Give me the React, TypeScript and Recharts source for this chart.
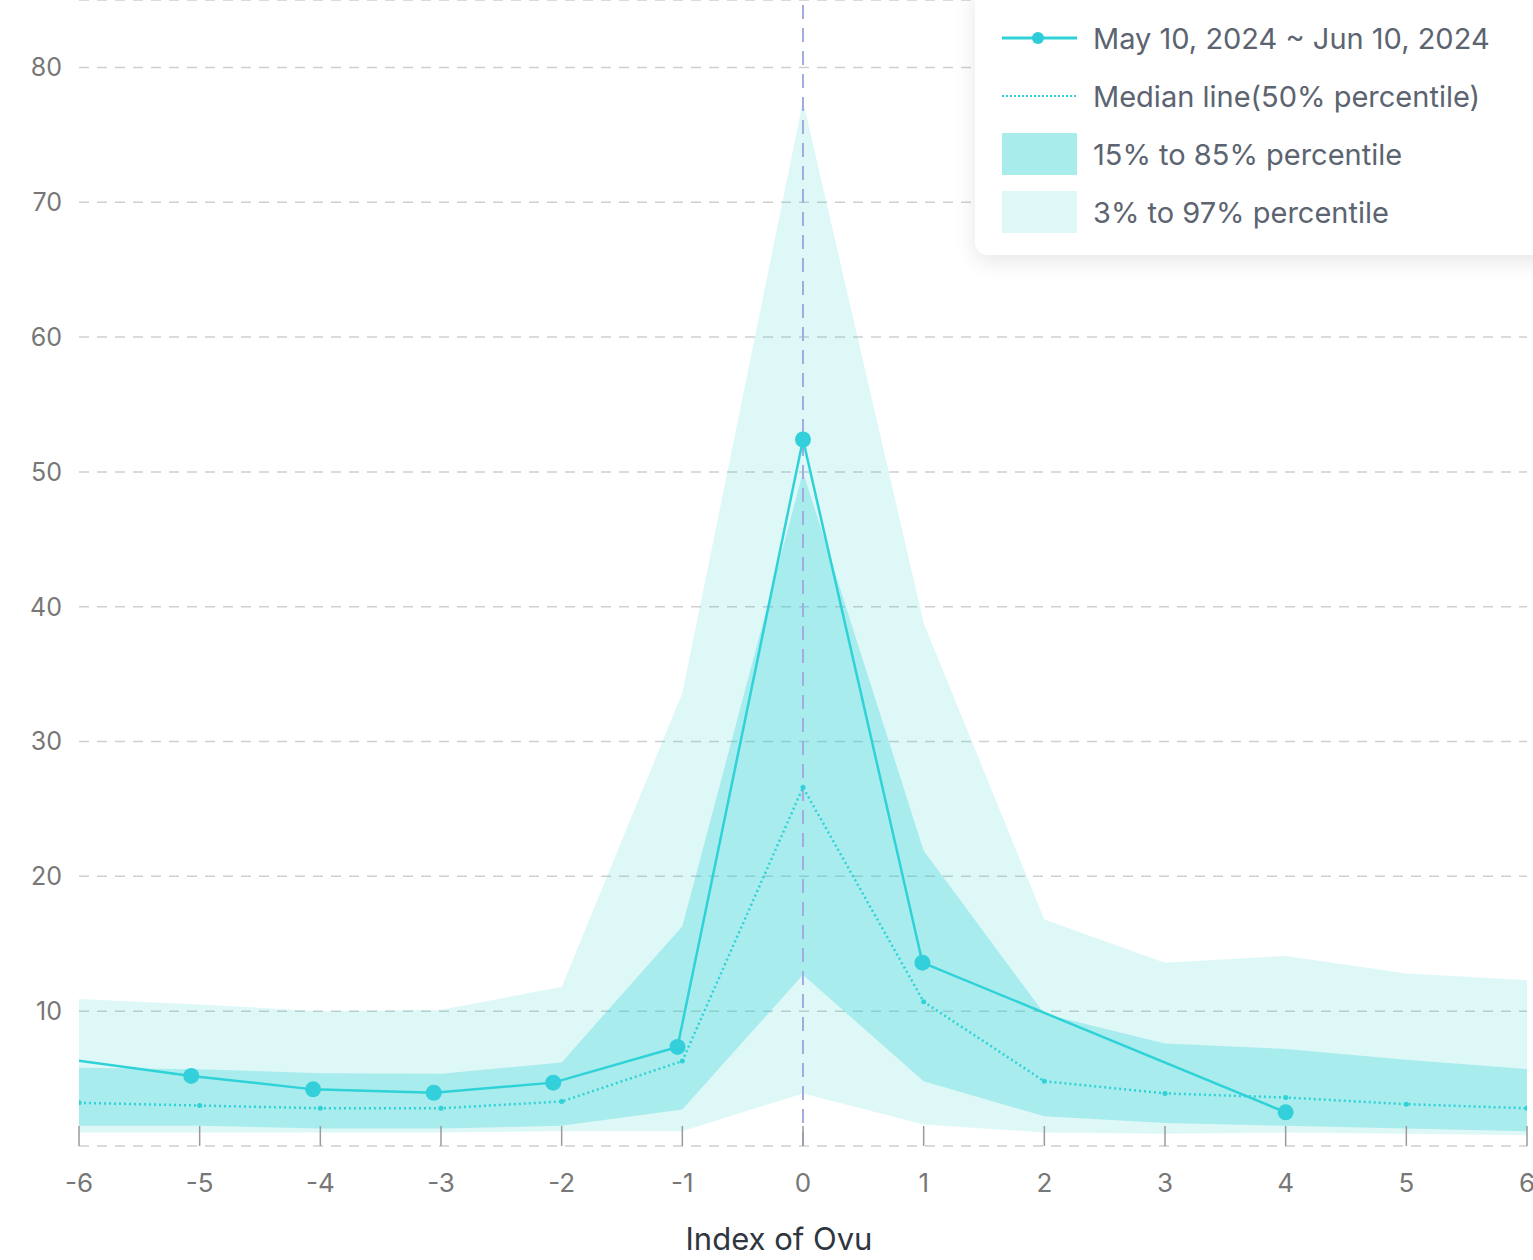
import {
  Area,
  CartesianGrid,
  ComposedChart,
  Legend,
  Line,
  ReferenceLine,
  XAxis,
  YAxis,
} from "recharts";

// Ovulation-index chart: percentile bands around day 0, the median line and
// one cycle's readings (May 10 ~ Jun 10, 2024) on top.

const DAYS = [-6, -5, -4, -3, -2, -1, 0, 1, 2, 3, 4, 5, 6];
const P97 = [10.9, 10.5, 10.0, 10.1, 11.8, 33.6, 77.5, 38.8, 16.8, 13.6, 14.1, 12.8, 12.3];
const P85 = [5.8, 5.7, 5.4, 5.35, 6.2, 16.3, 50, 21.9, 9.8, 7.6, 7.2, 6.4, 5.7];
const P50 = [3.2, 3.0, 2.8, 2.8, 3.3, 6.3, 26.6, 10.7, 4.8, 3.9, 3.6, 3.1, 2.8];
const P15 = [1.5, 1.5, 1.3, 1.3, 1.5, 2.7, 12.7, 4.8, 2.2, 1.7, 1.5, 1.3, 1.1];
const P3 = [1.0, 1.0, 1.0, 1.0, 1.1, 1.1, 3.9, 1.6, 1.0, 0.9, 1.0, 0.9, 0.8];

// readings of the selected cycle (x is the day offset, not always whole)
const CYCLE_X = [-6.07, -5.07, -4.06, -3.06, -2.07, -1.04, 0, 0.99, 4.0];
const CYCLE_Y = [6.4, 5.2, 4.2, 3.95, 4.7, 7.35, 52.4, 13.6, 2.5];

const Y_TICKS = [0, 10, 20, 30, 40, 50, 60, 70, 80, 85];

const bands = DAYS.map((x, i) => ({
  x,
  outer: [P3[i], P97[i]],
  inner: [P15[i], P85[i]],
  median: P50[i],
}));
const cycle = CYCLE_X.map((x, i) => ({ x, value: CYCLE_Y[i] }));

const FONT = "Inter, 'Noto Sans', sans-serif";
const TEAL = "#2fd2d7";

function LegendBox() {
  const rows = [
    {
      label: "May 10, 2024 ~ Jun 10, 2024",
      icon: (
        <>
          <line x1={0} y1={22} x2={75} y2={22} stroke={TEAL} strokeWidth={3} />
          <circle cx={36} cy={22} r={6} fill="#2cccd8" />
        </>
      ),
    },
    {
      label: "Median line(50% percentile)",
      icon: <line x1={0} y1={22} x2={75} y2={22} stroke={TEAL} strokeWidth={2} strokeDasharray="2 2" />,
    },
    { label: "15% to 85% percentile", icon: <rect x={0} y={1} width={75} height={42} fill="#a9ecec" /> },
    { label: "3% to 97% percentile", icon: <rect x={0} y={1} width={75} height={42} fill="#def8f8" /> },
  ];
  return (
    <div
      style={{
        width: 600,
        height: 267,
        boxSizing: "border-box",
        paddingTop: 21,
        background: "#fff",
        borderRadius: 12,
        boxShadow: "0 6px 22px rgba(0, 0, 0, 0.10)",
        fontFamily: FONT,
      }}
    >
      {rows.map((r) => (
        <div key={r.label} style={{ display: "flex", alignItems: "center", height: 58, paddingLeft: 27 }}>
          <svg width={75} height={44}>
            {r.icon}
          </svg>
          <span style={{ marginLeft: 16, fontSize: 29, color: "#5b6470", whiteSpace: "nowrap" }}>{r.label}</span>
        </div>
      ))}
    </div>
  );
}

export default function App() {
  return (
    <div
      style={{
        position: "absolute",
        left: 0,
        top: 0,
        width: 1533,
        height: 1260,
        overflow: "hidden",
        background: "#fff",
        fontFamily: FONT,
      }}
    >
      <ComposedChart
        width={1533}
        height={1260}
        data={bands}
        margin={{ top: 0, right: 6, bottom: 0, left: 0 }}
      >
        <Area
          dataKey="outer"
          type="linear"
          fill="#2ad0d4"
          fillOpacity={0.155}
          stroke="none"
          isAnimationActive={false}
        />
        <Area
          dataKey="inner"
          type="linear"
          fill="#2ad0d4"
          fillOpacity={0.29}
          stroke="none"
          isAnimationActive={false}
        />
        <CartesianGrid vertical={false} stroke="#cfcfcf" strokeWidth={1.5} strokeDasharray="10 8" />
        <XAxis
          dataKey="x"
          type="number"
          domain={[-6, 6]}
          allowDataOverflow
          ticks={DAYS}
          interval={0}
          height={114}
          axisLine={false}
          tickSize={-20}
          tickMargin={48}
          tickLine={{ stroke: "#9a9a9a", strokeWidth: 1.5 }}
          tick={{ fontSize: 26, fill: "#777", fontFamily: FONT }}
          label={{
            value: "Index of Ovu",
            position: "insideBottom",
            offset: 10,
            dx: -24,
            fill: "#2f3640",
            fontSize: 31,
            fontFamily: FONT,
          }}
        />
        <YAxis
          type="number"
          domain={[0, 85]}
          ticks={Y_TICKS}
          interval={0}
          width={79}
          axisLine={false}
          tickLine={false}
          tickSize={0}
          tickMargin={17}
          tickFormatter={(v: number) => (v === 0 || v === 85 ? "" : String(v))}
          tick={{ fontSize: 25, fill: "#777", fontFamily: FONT }}
        />
        <ReferenceLine x={0} stroke="#a3ace0" strokeWidth={2} strokeDasharray="14 9" />
        <Line
          dataKey="median"
          type="linear"
          stroke={TEAL}
          strokeWidth={2.5}
          strokeDasharray="2 3"
          dot={{ r: 2.5, fill: TEAL, stroke: "none" }}
          activeDot={false}
          isAnimationActive={false}
        />
        <Line
          data={cycle}
          dataKey="value"
          type="linear"
          stroke={TEAL}
          strokeWidth={2.5}
          dot={{ r: 8, fill: "#33cfdb", stroke: "none" }}
          activeDot={false}
          isAnimationActive={false}
        />
        <Legend
          layout="vertical"
          align="center"
          verticalAlign="middle"
          content={() => <LegendBox />}
          wrapperStyle={{ left: 975, top: -12, width: "auto", height: "auto" }}
        />
      </ComposedChart>
    </div>
  );
}
